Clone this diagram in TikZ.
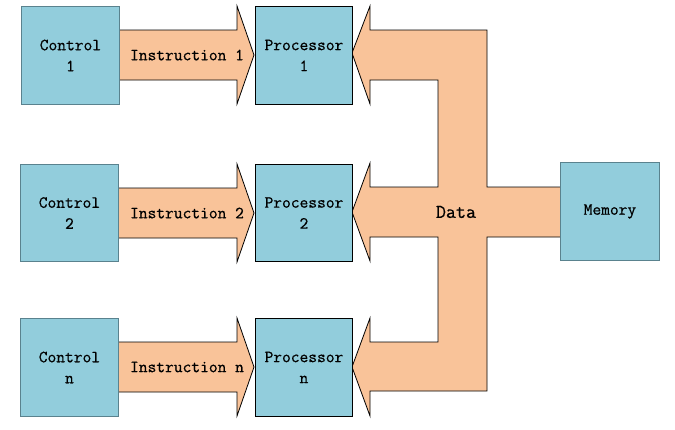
\documentclass[tikz,border=0pt]{standalone}
\usepackage{fontspec}
\newfontfamily\reffont[FakeBold=0.6]{Latin Modern Mono}
\begin{document}
\begin{tikzpicture}[x=1pt,y=-1pt,
  box/.style={fill=boxblue,draw=#1,line width=0.9pt,inner sep=0pt,anchor=north west},
  lbl/.style={font=\fontsize{17}{21}\reffont,align=center,inner sep=0pt},
  arr/.style={fill=arrorange,draw=none},
  edge/.style={draw=black,line width=0.8pt,line join=miter}]
\definecolor{boxblue}{RGB}{146,205,220}
\definecolor{arrorange}{RGB}{249,195,153}
\definecolor{boxedge}{RGB}{90,130,142}
\useasboundingbox (0,0) rectangle (675,429);
% instruction arrows
\foreach \t/\lab/\i in {6/1/1,164/2/2,318/n/3}{
  \fill[arr] (119,\t+24) -- (237,\t+24) -- (237,\t) -- (254,\t+49) -- (237,\t+98) -- (237,\t+74) -- (119,\t+74) -- cycle;
  \draw[edge] (119,\t+24) -- (237,\t+24) -- (237,\t) -- (254,\t+49) -- (237,\t+98) -- (237,\t+74) -- (119,\t+74);
  \node[lbl] (ins\i) at (187,\t+49) {Instruction \lab};
}
% data arrow
\path[arr] (352,53) -- (370,6) -- (370,30) -- (487,30) -- (487,187) -- (560,187) -- (560,237) -- (487,237) -- (487,391) -- (370,391) -- (370,416) -- (352,367) -- (370,318) -- (370,342) -- (438,342) -- (438,237) -- (370,237) -- (370,261) -- (352,212) -- (370,163) -- (370,187) -- (438,187) -- (438,80) -- (370,80) -- (370,104) -- cycle;
\draw[edge] (560,187) -- (487,187) -- (487,30) -- (370,30) -- (370,6) -- (352,53) -- (370,104) -- (370,80) -- (438,80) -- (438,187) -- (370,187) -- (370,163) -- (352,212) -- (370,261) -- (370,237) -- (438,237) -- (438,342) -- (370,342) -- (370,318) -- (352,367) -- (370,416) -- (370,391) -- (487,391) -- (487,237) -- (560,237);
\node[lbl,font=\fontsize{19.5}{21}\reffont] (data) at (456,212) {Data};
% boxes
\node[box=boxedge,minimum width=98pt,minimum height=98pt] (c1) at (21,6) {};
\node[box=boxedge,minimum width=98pt,minimum height=97pt] (c2) at (20,164) {};
\node[box=boxedge,minimum width=98pt,minimum height=98pt] (cn) at (20,318) {};
\node[box=black,minimum width=97pt,minimum height=98pt] (p1) at (255,6) {};
\node[box=black,minimum width=97pt,minimum height=97pt] (p2) at (255,164) {};
\node[box=black,minimum width=97pt,minimum height=98pt] (pn) at (255,318) {};
\node[box=boxedge,minimum width=99pt,minimum height=98pt] (mem) at (560,162) {};
\node[lbl] at (c1.center) {Control\\1};
\node[lbl] at (c2.center) {Control\\2};
\node[lbl] at (cn.center) {Control\\n};
\node[lbl] at (p1.center) {Processor\\1};
\node[lbl] at (p2.center) {Processor\\2};
\node[lbl] at (pn.center) {Processor\\n};
\node[lbl] at (mem.center) {Memory};
\end{tikzpicture}
\end{document}
